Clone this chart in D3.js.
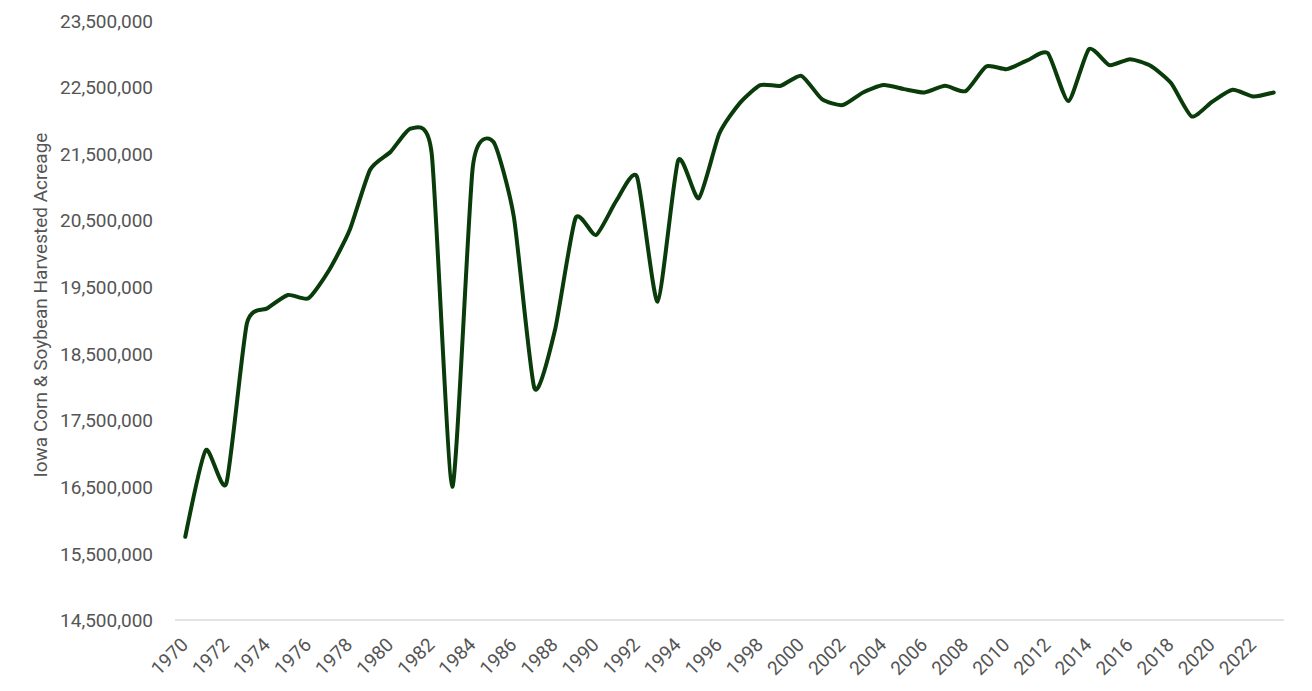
<!DOCTYPE html>
<html>
<head>
<meta charset="utf-8">
<script src="https://cdn.jsdelivr.net/npm/d3@7"></script>
<style>
  html, body { margin: 0; padding: 0; background: #fff; }
  svg { display: block; font-family: Roboto, "Noto Sans", sans-serif; }
</style>
</head>
<body>
<svg id="chart" width="1312" height="691"></svg>
<script>
const years = d3.range(1970, 2024);
const acreage = [
  15750000, 17050000, 16550000, 18950000, 19180000, 19380000, 19330000, 19750000,
  20350000, 21260000, 21530000, 21880000, 21500000, 16500000, 21300000, 21680000,
  20550000, 17980000, 18850000, 20530000, 20280000, 20800000, 21150000, 19280000,
  21400000, 20830000, 21800000, 22260000, 22530000, 22520000, 22670000, 22320000,
  22230000, 22420000, 22530000, 22470000, 22420000, 22520000, 22440000, 22810000,
  22770000, 22900000, 23010000, 22290000, 23070000, 22830000, 22920000, 22820000,
  22560000, 22060000, 22280000, 22460000, 22360000, 22420000
];
const yTicks = d3.range(14500000, 23500001, 1000000);
const xTickYears = years.filter(y => y % 2 === 0);
const yTitle = "Iowa Corn & Soybean Harvested Acreage";

const svg = d3.select("#chart");
const pLeft = 175, pRight = 1284, pTop = 20.5, pBottom = 620;

const x = d3.scaleBand().domain(years).range([pLeft, pRight]);
const xc = d => x(d) + x.bandwidth() / 2;
const y = d3.scaleLinear().domain([14500000, 23500000]).range([pBottom, pTop]);

// baseline
svg.append("line")
  .attr("x1", pLeft).attr("x2", pRight)
  .attr("y1", y(14500000)).attr("y2", y(14500000))
  .attr("stroke", "#dadada").attr("stroke-width", 1.5);

// y axis labels
const yAxis = d3.axisLeft(y).tickValues(yTicks).tickSize(0).tickPadding(0)
  .tickFormat(d3.format(","));
const yg = svg.append("g").attr("transform", `translate(153,0)`).call(yAxis);
yg.select(".domain").remove();
yg.selectAll("text").attr("font-size", 19).attr("fill", "#555555")
  .attr("font-family", "Roboto, sans-serif").attr("dy", "0.35em");

// x axis labels
const xAxis = d3.axisBottom(x).tickValues(xTickYears).tickSize(0).tickPadding(0);
const xg = svg.append("g").call(xAxis);
xg.select(".domain").remove();
xg.selectAll(".tick").attr("transform", d => `translate(${xc(d) + 4},646)`);
xg.selectAll("text")
  .attr("font-size", 19).attr("fill", "#555555")
  .attr("font-family", "Roboto, sans-serif")
  .attr("y", 0).attr("dy", 0)
  .attr("text-anchor", "end")
  .attr("transform", "rotate(-45)");

// y title
svg.append("text")
  .attr("transform", `translate(47,305) rotate(-90)`)
  .attr("text-anchor", "middle")
  .attr("font-size", 19).attr("fill", "#555555")
  .text(yTitle);

// line
const line = d3.line()
  .x((d, i) => xc(years[i]))
  .y(d => y(d))
  .curve(d3.curveCardinal.tension(0.4));
svg.append("path")
  .datum(acreage)
  .attr("d", line)
  .attr("fill", "none")
  .attr("stroke", "#0a3b0a")
  .attr("stroke-width", 4)
  .attr("stroke-linejoin", "round")
  .attr("stroke-linecap", "round");
</script>
</body>
</html>
